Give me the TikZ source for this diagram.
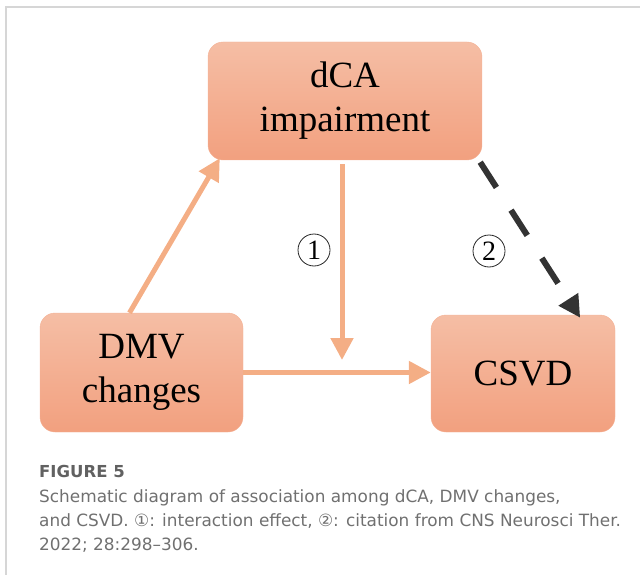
\documentclass[tikz,border=0pt]{standalone}
\usepackage{fontspec}
\setmainfont{Liberation Serif}
\newfontfamily\capfont{DejaVu Sans}
\usetikzlibrary{arrows.meta}
\definecolor{boxtop}{HTML}{F5BEA5}
\definecolor{boxbot}{HTML}{F2A07F}
\definecolor{flow}{HTML}{F4AE85}
\definecolor{frame}{HTML}{D6D6D6}
\definecolor{capgray}{HTML}{707070}
\tikzstyle{box}=[rounded corners=15pt, top color=boxtop, bottom color=boxbot, draw=boxtop!60!boxbot,
  align=center, font=\fontsize{37}{44}\selectfont, inner sep=0pt]
\tikzstyle{flowline}=[draw=flow, line width=5pt, -{Triangle[length=22pt, width=22pt]}]
\tikzstyle{numc}=[circle, draw=black!85, line width=0.8pt, minimum size=32pt, inner sep=0pt,
  font=\fontsize{28}{28}\selectfont]
\tikzstyle{captext}=[anchor=base west, inner sep=0pt, text=capgray, font=\capfont\fontsize{16.9}{24}\selectfont]

\begin{document}
\begin{tikzpicture}[x=1pt, y=-1pt]
    \useasboundingbox (0,0) rectangle (640,575);
% Frame
    \draw[frame, line width=1.5pt] (6,575) -- (6,7) -- (640,7);
% Boxes
    \node[box, minimum width=274pt, minimum height=118pt] (dca) at (345,101) {dCA\\impairment};
    \node[box, minimum width=203pt, minimum height=119pt] (dmv) at (141.5,372.5) {DMV\\changes};
    \node[box, minimum width=184pt, minimum height=117pt] (csvd) at (523,373.5) {CSVD};
% Arrows
    \coordinate (meet) at (342,360);
    \draw[flowline] ([xshift=-12pt]dmv.north) -- ([xshift=12pt, yshift=2pt]dca.south west);
    \draw[flowline] ([xshift=-3pt, yshift=-4pt]dca.south) -- (meet);
    \draw[flowline] (dmv.east) -- (dmv.east -| csvd.west);
    \draw[draw=black!80, line width=6pt, dash pattern=on 30pt off 27pt, -{Triangle[length=22pt, width=22pt]}]
        ([xshift=-2pt, yshift=-2pt]dca.south east) -- ([xshift=-35pt, yshift=-3pt]csvd.north east);
% Labels
    \node[numc] (one) at (314,250) {1};
    \node[numc] (two) at (489,251) {2};
% Caption
    \node[captext, text=black!62, font=\capfont\bfseries\fontsize{16.5}{24}\selectfont] (fig) at (39,477) {FIGURE 5};
    \node[captext] (cap1) at (39,502) {Schematic diagram of association among dCA, DMV changes,};
    \node[captext] (cap2) at (39,526) {and CSVD. ①: interaction effect, ②: citation from CNS Neurosci Ther.};
    \node[captext] (cap3) at (39,550) {2022; 28:298–306.};
\end{tikzpicture}
\end{document}
